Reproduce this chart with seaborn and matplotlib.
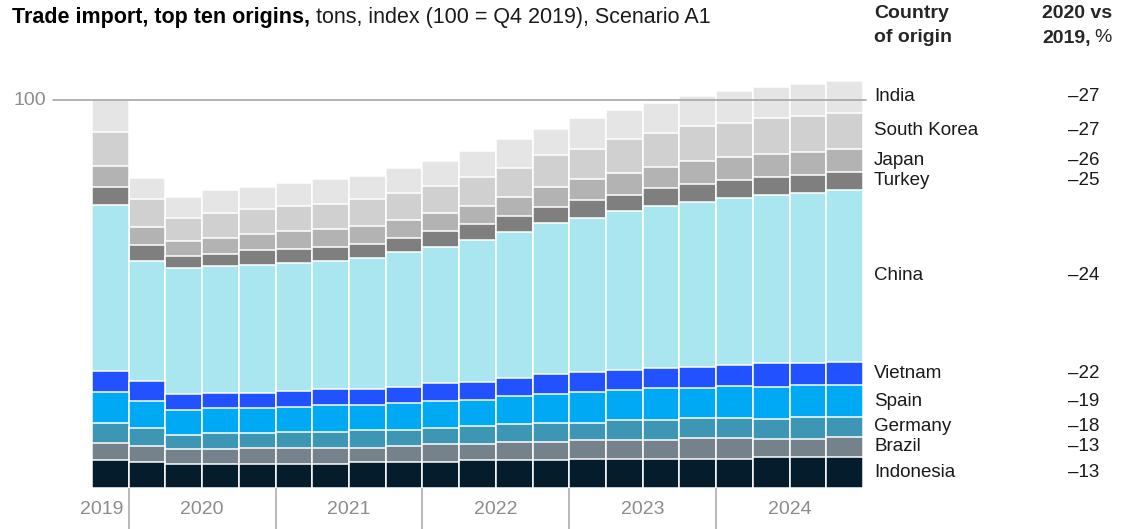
import numpy as np
import pandas as pd
import matplotlib.pyplot as plt
import seaborn as sns

# Q4 2019 then every quarter 2020-2024 (21 bars)
quarters = ["Q4 2019"] + [f"Q{q} {y}" for y in range(2020, 2025) for q in range(1, 5)]
years = ["2019", "2020", "2021", "2022", "2023", "2024"]

# index values (100 = Q4 2019 total), bottom segment first
indonesia = [7.1, 6.7, 6.2, 6.2, 6.2, 6.2, 6.2, 6.7, 6.7, 6.7, 7.1,
             7.1, 7.1, 7.6, 7.6, 7.6, 7.6, 7.6, 8.0, 8.0, 8.0]
brazil = [4.6, 4.2, 3.8, 3.8, 4.2, 4.2, 4.2, 3.7, 4.2, 4.6, 4.2,
          4.7, 4.7, 4.7, 4.7, 4.7, 5.2, 5.2, 4.7, 4.7, 5.2]
germany = [5.1, 4.6, 3.7, 4.1, 3.7, 4.1, 4.1, 4.6, 4.1, 4.2, 4.6,
           4.6, 5.0, 4.5, 5.1, 5.1, 5.2, 5.2, 5.2, 5.6, 5.1]
spain = [7.9, 6.9, 6.4, 6.5, 6.5, 6.5, 7.0, 6.4, 6.9, 6.9, 6.9,
         7.3, 7.4, 7.9, 7.9, 8.4, 7.8, 8.2, 8.2, 8.2, 8.2]
vietnam = [5.5, 5.1, 4.1, 4.0, 4.0, 4.1, 4.1, 4.1, 4.2, 4.6, 4.6,
           4.6, 5.1, 5.1, 5.0, 5.0, 5.5, 5.5, 6.0, 5.6, 6.0]
china = [42.7, 31.0, 32.5, 32.6, 32.9, 32.9, 33.0, 33.9, 34.8, 35.2, 36.6,
         37.6, 38.9, 39.7, 41.1, 41.8, 42.5, 43.1, 43.5, 44.0, 44.4]
turkey = [4.6, 4.2, 3.2, 3.2, 3.8, 3.7, 3.6, 3.6, 3.6, 4.1, 4.1,
          4.2, 4.2, 4.7, 4.2, 4.6, 4.6, 4.6, 4.6, 4.6, 4.6]
japan = [5.5, 4.6, 3.7, 4.1, 4.1, 4.5, 4.6, 4.6, 4.6, 4.6, 4.7,
         5.0, 5.1, 5.5, 5.5, 5.5, 6.0, 5.9, 6.0, 6.0, 5.9]
south_korea = [8.8, 7.3, 6.0, 6.4, 6.4, 6.5, 6.5, 7.0, 6.9, 7.0, 7.3,
               7.4, 8.2, 7.8, 8.9, 8.9, 8.8, 8.8, 9.2, 9.3, 9.3]
india = [8.2, 5.4, 5.5, 5.9, 5.9, 5.8, 6.4, 5.9, 6.4, 6.4, 6.8,
         7.4, 6.9, 7.9, 7.4, 7.7, 7.9, 8.3, 7.9, 8.2, 8.3]

countries = ["Indonesia", "Brazil", "Germany", "Spain", "Vietnam",
             "China", "Turkey", "Japan", "South Korea", "India"]
change_2020 = [-13, -13, -18, -19, -22, -24, -25, -26, -27, -27]
colors = ["#051c2c", "#75818b", "#3c96b4", "#00a9f4", "#2251ff",
          "#aae6f0", "#7f7f7f", "#b3b3b3", "#d0d0d0", "#e5e5e5"]

df = pd.DataFrame({"Indonesia": indonesia, "Brazil": brazil, "Germany": germany,
                   "Spain": spain, "Vietnam": vietnam, "China": china,
                   "Turkey": turkey, "Japan": japan, "South Korea": south_korea,
                   "India": india}, index=quarters)
cum = df[countries].cumsum(axis=1)

sns.set_theme(style="white")
plt.rcParams["font.family"] = ["Liberation Sans", "DejaVu Sans"]

W, H = 1131, 529
fig = plt.figure(figsize=(W / 100, H / 100), dpi=100)
ax = fig.add_axes([92 / W, 41 / H, 771 / W, 426.8 / H])

# stacked bars: draw cumulative totals from the top layer down
for name, col in zip(reversed(countries), reversed(colors)):
    sns.barplot(x=quarters, y=cum[name].values, color=col, saturation=1,
                width=1.0, edgecolor="white", linewidth=1.1, errorbar=None, ax=ax)

ax.set_xlim(-0.5, len(quarters) - 0.5)
ax.set_ylim(0, 110)
ax.set(xlabel="", ylabel="", xticks=[], yticks=[])
sns.despine(ax=ax, left=True, bottom=True)

# 100 reference line, drawn above the bars
ax.axhline(100, xmin=(53 - 92) / 771, xmax=(866 - 92) / 771, color="#a6a6a6",
           lw=1.2, zorder=10, clip_on=False)
ax.text((46 - 92) / 771, 100, "100", transform=ax.get_yaxis_transform(),
        ha="right", va="center", fontsize=14, color="#8c8c8c")

# year separators and labels
xt = ax.get_xaxis_transform()
ax.vlines([0.5, 4.5, 8.5, 12.5, 16.5], -41 / 426.8, 0, transform=xt,
          color="#a6a6a6", lw=1.1, clip_on=False)
ax.text(0.36, -21 / 426.8, years[0], transform=xt, ha="right", va="center",
        fontsize=14, color="#8c8c8c")
for i, yr in enumerate(years[1:]):
    ax.text(2.5 + 4 * i, -21 / 426.8, yr, transform=xt, ha="center", va="center",
            fontsize=14, color="#8c8c8c")

# right-hand labels at the middle of each segment of the last bar
yt = ax.get_yaxis_transform()
last = cum.iloc[-1]
prev = 0
for name, chg in zip(countries, change_2020):
    mid = (prev + last[name]) / 2
    prev = last[name]
    ax.text((874 - 92) / 771, mid, name, transform=yt, ha="left", va="center",
            fontsize=13.5, color="#1a1a1a")
    ax.text((1099 - 92) / 771, mid, f"\u2013{abs(chg)}", transform=yt, ha="right",
            va="center", fontsize=13.5, color="#1a1a1a")

# title: bold part followed by regular part
r = fig.canvas.get_renderer()
t1 = fig.text(12 / W, 1 - 17 / H, "Trade import, top ten origins,", fontsize=15.5,
              fontweight="bold", va="center", color="black")
bb = t1.get_window_extent(r)
fig.text((bb.x1 + 6) / W, 1 - 17 / H, "tons, index (100 = Q4 2019), Scenario A1",
         fontsize=15.5, va="center", color="#1a1a1a")

# column headers
fig.text(874 / W, 1 - 14 / H, "Country", fontsize=14, fontweight="bold", va="center")
fig.text(874 / W, 1 - 38 / H, "of origin", fontsize=14, fontweight="bold", va="center")
fig.text(1112 / W, 1 - 14 / H, "2020 vs", fontsize=14, fontweight="bold",
         va="center", ha="right")
tp = fig.text(1112 / W, 1 - 38 / H, "%", fontsize=14, va="center", ha="right")
pb = tp.get_window_extent(r)
fig.text((pb.x0 - 4) / W, 1 - 38 / H, "2019,", fontsize=14, fontweight="bold",
         va="center", ha="right")

fig.savefig("out.png", dpi=100)
